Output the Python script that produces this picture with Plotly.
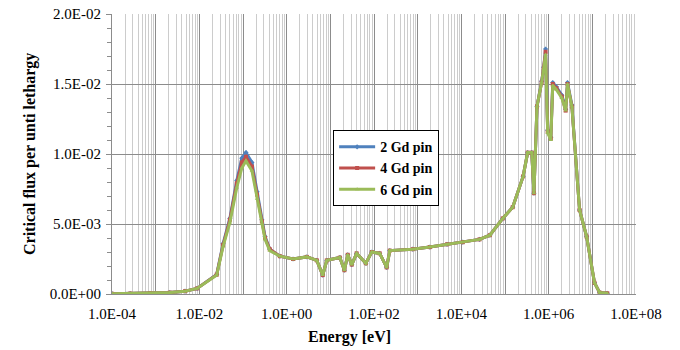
import plotly.graph_objects as go

energy_ev = [1.0e-4, 2.6e-4, 7.4e-4, 2.1e-3, 4.7e-3, 8.9e-3, 2.5e-2, 3.5e-2, 5.0e-2, 7.2e-2,
             9.4e-2, 0.117, 0.16, 0.21, 0.27, 0.32, 0.41, 0.70, 1.4, 2.9,
             4.9, 6.7, 8.3, 16.5, 21, 25, 31, 40, 65, 89,
             135, 195, 230, 770, 1900, 4700, 1.08e4, 2.6e4, 4.5e4, 8.9e4,
             1.5e5, 2.6e5, 3.3e5, 4.1e5, 4.6e5, 5.4e5, 6.9e5, 7.7e5, 8.5e5, 9.5e5,
             1.12e6, 1.24e6, 1.5e6, 2.0e6, 2.45e6, 2.7e6, 3.4e6, 5.1e6, 7.4e6, 1.12e7,
             1.47e7, 2.2e7]

flux_6gd = [0.00002, 0.00003, 0.00005, 0.0001, 0.0002, 0.0004, 0.00135, 0.0034, 0.0051, 0.0076,
            0.0090, 0.0095, 0.0088, 0.0068, 0.0050, 0.0039, 0.0031, 0.0027, 0.0025, 0.00265,
            0.0024, 0.00135, 0.0024, 0.0026, 0.0017, 0.0028, 0.0021, 0.0029, 0.0022, 0.0030,
            0.0029, 0.0019, 0.0031, 0.0032, 0.00335, 0.00355, 0.0037, 0.0039, 0.0042, 0.0054,
            0.0062, 0.0084, 0.0101, 0.0101, 0.0072, 0.0134, 0.0151, 0.0160, 0.0171, 0.0115,
            0.0110, 0.0149, 0.0146, 0.0140, 0.0131, 0.0150, 0.0134, 0.0060, 0.0041, 0.0008,
            0.0001, 0.00005]

flux_4gd = [0.00002, 0.00003, 0.00005, 0.0001, 0.0002, 0.0004, 0.00138, 0.0035, 0.0053, 0.0079,
            0.0094, 0.0098, 0.0091, 0.0071, 0.0052, 0.0040, 0.0032, 0.0027, 0.0025, 0.00265,
            0.0024, 0.00135, 0.0024, 0.0026, 0.0017, 0.0028, 0.0021, 0.0029, 0.0022, 0.0030,
            0.0029, 0.0019, 0.0031, 0.0032, 0.00335, 0.00355, 0.0037, 0.0039, 0.0042, 0.0054,
            0.0062, 0.0084, 0.0101, 0.0101, 0.0072, 0.0134, 0.0151, 0.0161, 0.0173, 0.0116,
            0.0111, 0.0150, 0.0147, 0.0141, 0.0131, 0.0150, 0.0134, 0.0060, 0.0041, 0.0008,
            0.0001, 0.00005]

flux_2gd = [0.00002, 0.00003, 0.00005, 0.0001, 0.0002, 0.0004, 0.0014, 0.0036, 0.0054, 0.0081,
            0.0097, 0.0101, 0.0094, 0.0073, 0.0053, 0.0041, 0.0032, 0.0027, 0.0025, 0.00265,
            0.0024, 0.00135, 0.0024, 0.0026, 0.0017, 0.0028, 0.0021, 0.0029, 0.0022, 0.0030,
            0.0029, 0.0019, 0.0031, 0.0032, 0.00335, 0.00355, 0.0037, 0.0039, 0.0042, 0.0054,
            0.0062, 0.0084, 0.0101, 0.0101, 0.0072, 0.0134, 0.0152, 0.0162, 0.0175, 0.0117,
            0.0112, 0.0151, 0.0148, 0.0142, 0.0132, 0.0151, 0.0135, 0.0060, 0.0041, 0.0008,
            0.0001, 0.00005]

series_names = ["2 Gd pin", "4 Gd pin", "6 Gd pin"]

x_tick_vals = [1e-4, 1e-3, 1e-2, 1e-1, 1e0, 1e1, 1e2, 1e3, 1e4, 1e5, 1e6, 1e7, 1e8]
x_tick_text = ["1.0E-04", "", "1.0E-02", "", "1.0E+00", "", "1.0E+02", "", "1.0E+04", "",
               "1.0E+06", "", "1.0E+08"]
y_tick_vals = [0, 0.005, 0.01, 0.015, 0.02]
y_tick_text = ["0.0E+00", "5.0E-03", "1.0E-02", "1.5E-02", "2.0E-02"]
x_title = "Energy [eV]"
y_title = "Critical flux per unti lethargy"

font_family = "'Liberation Serif', 'Times New Roman', Times, 'DejaVu Serif', serif"

fig = go.Figure()
styles = [("#4F81BD", "diamond"), ("#C0504D", "square"), ("#9BBB59", "triangle-up")]
for name, vals, (col, sym) in zip(series_names, [flux_2gd, flux_4gd, flux_6gd], styles):
    fig.add_trace(go.Scatter(
        x=energy_ev, y=vals, name=name, mode="lines+markers",
        line=dict(color=col, width=3),
        marker=dict(color=col, symbol=sym, size=4),
    ))

fig.update_layout(
    width=680, height=350,
    margin=dict(l=112, r=44, t=14, b=56, autoexpand=False),
    paper_bgcolor="white", plot_bgcolor="white",
    font=dict(family=font_family, size=14, color="black"),
    showlegend=True,
    legend=dict(
        x=0.422, y=0.585, xanchor="left", yanchor="top",
        bordercolor="black", borderwidth=1, bgcolor="white",
        font=dict(family=font_family, size=14, color="black", weight="bold"),
        tracegroupgap=0, itemwidth=36,
    ),
)

fig.update_xaxes(
    type="log", range=[-4, 8], automargin=False,
    tickvals=x_tick_vals, ticktext=x_tick_text,
    showgrid=True, gridcolor="#8c8c8c", gridwidth=1,
    showline=True, linecolor="#8c8c8c", linewidth=1,
    ticks="", zeroline=False, ticklabelstandoff=6,
    tickfont=dict(family=font_family, size=15),
    minor=dict(dtick="D1", showgrid=True, gridcolor="#cccccc", gridwidth=1, ticks=""),
)

fig.update_yaxes(
    range=[0, 0.02], automargin=False,
    tickvals=y_tick_vals, ticktext=y_tick_text,
    showgrid=True, gridcolor="#8c8c8c", gridwidth=1,
    showline=True, linecolor="#8c8c8c", linewidth=1,
    ticks="outside", ticklen=5, tickcolor="#8c8c8c",
    zeroline=False, ticklabeloverflow="allow", ticklabelstandoff=2,
    tickfont=dict(family=font_family, size=15),
    minor=dict(dtick=0.001, ticks="outside", ticklen=4, tickcolor="#8c8c8c", showgrid=False),
)

fig.add_annotation(
    text="<b>" + x_title + "</b>", xref="paper", yref="paper",
    x=0.454, y=0, xanchor="center", yanchor="middle", yshift=-43,
    showarrow=False, font=dict(family=font_family, size=16, color="black"),
)
fig.add_annotation(
    text="<b>" + y_title + "</b>", xref="paper", yref="paper",
    x=-0.1565, y=0.5, xanchor="center", yanchor="middle", textangle=-90,
    showarrow=False, font=dict(family=font_family, size=16, color="black"),
)

fig.write_html("out.html", config={"displayModeBar": False},
               post_script="document.body.style.margin='0';")
